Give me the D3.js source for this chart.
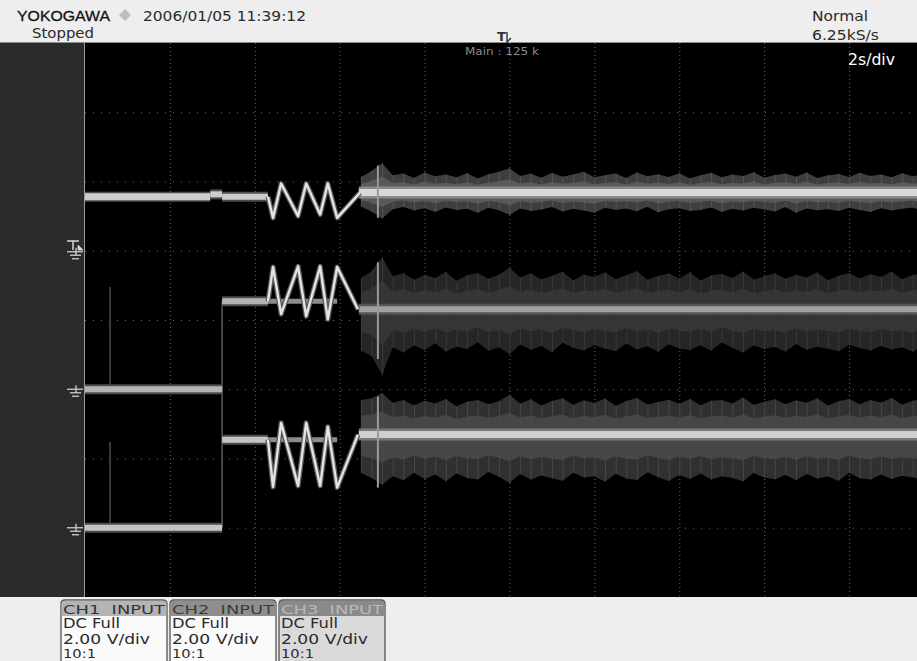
<!DOCTYPE html>
<html><head><meta charset="utf-8">
<script src="https://cdn.jsdelivr.net/npm/d3@7"></script>
<style>html,body{margin:0;padding:0;background:#eeeeee;} svg{display:block;}</style>
</head><body>
<svg id="c" width="917" height="661"></svg>
<script>
// ---------------- DATA ----------------
const timeDomain = [0, 20];            // s (2 s/div, 10 div)
const voltDomain = [-8, 8];            // V on screen (2 V/div, 8 div)
const gridTimes = [2, 4, 6, 8, 10, 12, 14, 16, 18];
const gridVolts = [-6, -4, -2, 0, 2, 4, 6];
const channelNames = ["CH1", "CH2", "CH3"];
const channelGround = [2, -2, -6];     // screen volts of each channel's ground marker
const channelCoupling = ["DC Full", "DC Full", "DC Full"];
const channelScale = ["2.00 V/div", "2.00 V/div", "2.00 V/div"];
const channelProbe = ["10:1", "10:1", "10:1"];

// flat levels before oscillation: [tStart, tEnd, volts]
const ch1Levels = [[0, 2.95, 1.56], [2.95, 3.23, 1.63], [3.23, 4.31, 1.56]];
const ch2Levels = [[0, 3.23, 0], [3.23, 4.31, 2.54]];
const ch3Levels = [[0, 3.23, 0], [3.23, 4.31, 2.54]];
// dim baseline continuing under the oscillation
const ch2Under = [[4.31, 5.94, 2.54]];
const ch3Under = [[4.31, 5.94, 2.54]];

// oscillation burst
const ch1OscT = [4.31, 4.43, 4.62, 5.02, 5.21, 5.54, 5.72, 5.94, 6.48];
const ch1OscV = [1.56, 0.95, 1.94, 1.00, 1.94, 1.05, 1.94, 0.95, 1.68];
const ch2OscT = [4.31, 4.43, 4.62, 5.02, 5.21, 5.54, 5.72, 5.94, 6.43];
const ch2OscV = [2.54, 3.53, 2.17, 3.55, 2.11, 3.55, 2.02, 3.53, 2.31];
const ch3OscT = [4.31, 4.43, 4.62, 5.02, 5.21, 5.54, 5.72, 5.94, 6.43];
const ch3OscV = [2.54, 1.18, 3.03, 1.21, 3.03, 1.21, 2.92, 1.16, 2.69];

// step edge at 3.23 s and glitch at 0.59 s : [t, vLow, vHigh]
const ch2Edge = [3.23, -1.45, 2.54];
const ch3Edge = [3.23, 0, 2.54];
const ch2Glitch = [0.59, 0, 2.95];
const ch3Glitch = [0.59, 0, 2.48];

// noisy steady state after 6.5 s
const noiseStart = 6.5, noiseStep = 0.25;
const channelCenter = [1.68, 2.31, 2.69];
const ch1NoiseUp = [0.45,0.62,0.85,0.50,0.55,0.42,0.58,0.47,0.52,0.44,0.56,0.41,0.53,0.60,0.70,0.48,0.55,0.43,0.57,0.46,0.52,0.60,0.44,0.50,0.55,0.42,0.58,0.47,0.53,0.45,0.56,0.41,0.50,0.57,0.44,0.52,0.48,0.59,0.43,0.51,0.55,0.46,0.58,0.42,0.50,0.54,0.45,0.57,0.48,0.52,0.44,0.56,0.47,0.53,0.50];
const ch1NoiseDn = [0.40,0.55,0.75,0.48,0.42,0.52,0.45,0.56,0.43,0.50,0.47,0.58,0.44,0.51,0.65,0.46,0.53,0.49,0.42,0.55,0.47,0.52,0.58,0.44,0.50,0.46,0.54,0.41,0.57,0.48,0.45,0.53,0.50,0.43,0.56,0.47,0.52,0.44,0.49,0.55,0.42,0.58,0.46,0.51,0.48,0.53,0.44,0.50,0.56,0.45,0.52,0.47,0.43,0.54,0.49];
const ch2NoiseUp = [0.90,1.10,1.50,0.95,1.05,0.85,1.00,0.90,1.08,0.82,0.98,1.05,0.88,1.00,1.20,0.92,1.04,0.86,0.97,1.08,0.84,1.00,0.93,1.06,0.87,0.99,1.10,0.85,0.96,1.03,0.89,1.07,0.83,0.98,1.02,0.90,1.09,0.86,0.95,1.04,0.88,1.00,0.92,1.06,0.84,0.97,1.05,0.89,1.01,0.94,1.08,0.87,0.99,1.03,0.95];
const ch2NoiseDn = [1.20,1.35,1.90,1.10,1.25,1.05,1.18,0.98,1.22,1.08,1.15,0.95,1.20,1.10,1.30,1.02,1.17,1.06,1.24,0.97,1.12,1.19,1.03,1.14,1.21,0.99,1.16,1.07,1.23,1.01,1.13,1.18,1.04,1.20,0.96,1.11,1.25,1.05,1.15,1.09,1.22,1.00,1.17,1.08,1.14,1.21,1.03,1.12,1.19,1.06,1.16,1.10,1.23,1.02,1.15];
const ch3NoiseUp = [1.00,1.05,1.20,0.92,1.00,0.85,0.98,0.90,1.03,0.82,0.95,1.00,0.88,0.96,1.15,0.90,1.02,0.84,0.97,1.05,0.86,0.99,0.91,1.04,0.83,0.97,1.06,0.87,0.94,1.01,0.89,1.03,0.85,0.98,1.00,0.90,1.07,0.86,0.95,1.02,0.88,0.99,0.92,1.05,0.84,0.96,1.03,0.88,1.00,0.93,1.06,0.86,0.98,1.02,0.94];
const ch3NoiseDn = [1.10,1.25,1.45,1.20,1.32,1.10,1.28,1.15,1.35,1.12,1.25,1.30,1.08,1.22,1.40,1.14,1.30,1.18,1.26,1.33,1.10,1.24,1.20,1.36,1.13,1.27,1.31,1.09,1.23,1.34,1.16,1.28,1.12,1.30,1.20,1.25,1.35,1.11,1.24,1.29,1.17,1.32,1.14,1.27,1.21,1.33,1.10,1.26,1.30,1.15,1.28,1.19,1.24,1.31,1.20];
// bright spike at 6.9 s : [vLow, vHigh] per channel
const spikeTime = 6.9;
const spikeRange = [[0.95, 2.46], [0.87, 3.67], [1.16, 3.79]];

// ---------------- DRAW ----------------
const svg = d3.select("#c");
const x = d3.scaleLinear().domain(timeDomain).range([85, 934]);
const y = d3.scaleLinear().domain(voltDomain).range([597, 43]);
const yc = (ch, v) => y(channelGround[ch] + v);

svg.append("rect").attr("x",0).attr("y",0).attr("width",917).attr("height",661).attr("fill","#eeeeee");
svg.append("rect").attr("x",0).attr("y",42).attr("width",85).attr("height",555).attr("fill","#2b2b2b");
svg.append("rect").attr("x",85).attr("y",42).attr("width",832).attr("height",555).attr("fill","#000");
svg.append("line").attr("x1",0).attr("x2",917).attr("y1",42.5).attr("y2",42.5).attr("stroke","#8a8a8a");
svg.append("line").attr("x1",84.5).attr("x2",84.5).attr("y1",43).attr("y2",597).attr("stroke","#9a9a9a");

svg.append("defs").append("clipPath").attr("id","pc").append("rect")
  .attr("x",85).attr("y",43).attr("width",832).attr("height",554);
const g = svg.append("g").attr("clip-path","url(#pc)");

// grid via axes
const gx = g.append("g").attr("transform","translate(0,43)")
  .call(d3.axisTop(x).tickValues(gridTimes).tickSize(-554).tickFormat(""));
gx.select(".domain").remove();
gx.selectAll("line").attr("stroke","#6a6a6a").attr("stroke-dasharray","1,3");
const gy = g.append("g").attr("transform","translate(85,0)")
  .call(d3.axisLeft(y).tickValues(gridVolts).tickSize(-850).tickFormat(""));
gy.select(".domain").remove();
gy.selectAll("line").attr("stroke","#6a6a6a").attr("stroke-dasharray","1,7");

// noise
const noiseUp = [ch1NoiseUp, ch2NoiseUp, ch3NoiseUp];
const noiseDn = [ch1NoiseDn, ch2NoiseDn, ch3NoiseDn];
const areaFill = ["#3e3e3e", "#262626", "#303030"];
const innerFill = ["#5e5e5e", "#383838", "#4a4a4a"];
const hairCol = ["#5a5a5a", "#3e3e3e", "#4c4c4c"];
const bandCol = ["#d9d9d9", "#a0a0a0", "#cfcfcf"];
const bandGlow = ["#8a8a8a", "#555555", "#7a7a7a"];
const bandW = [7, 6, 7];
for (let ch = 0; ch < 3; ch++) {
  const c = channelCenter[ch];
  const pts = noiseUp[ch].map((u, i) => ({t: noiseStart + i * noiseStep, up: u, dn: noiseDn[ch][i]}));
  g.append("path").datum(pts)
    .attr("d", d3.area().x(d => x(d.t)).y0(d => yc(ch, c - d.dn)).y1(d => yc(ch, c + d.up)))
    .attr("fill", areaFill[ch]);
  g.append("g").selectAll("line").data(pts).join("line")
    .attr("x1", d => x(d.t) + 0.5).attr("x2", d => x(d.t) + 0.5)
    .attr("y1", d => yc(ch, c - d.dn)).attr("y2", d => yc(ch, c + d.up))
    .attr("stroke", hairCol[ch]).attr("stroke-width", 0.8);
  g.append("path").datum(pts)
    .attr("d", d3.area().x(d => x(d.t)).y0(d => yc(ch, c - d.dn * 0.55)).y1(d => yc(ch, c + d.up * 0.55)))
    .attr("fill", innerFill[ch]).attr("opacity", 0.85);
  const band = [{t: noiseStart - 0.05}, {t: timeDomain[1]}];
  const ln = d3.line().x(d => x(d.t)).y(() => yc(ch, c));
  g.append("path").datum(band).attr("d", ln).attr("stroke", bandGlow[ch]).attr("stroke-width", bandW[ch] + 5).attr("fill","none");
  g.append("path").datum(band).attr("d", ln).attr("stroke", bandCol[ch]).attr("stroke-width", bandW[ch]).attr("fill","none");
  // spike
  g.append("line").attr("x1", x(spikeTime)).attr("x2", x(spikeTime))
    .attr("y1", yc(ch, spikeRange[ch][0])).attr("y2", yc(ch, spikeRange[ch][1]))
    .attr("stroke", "#9a9a9a").attr("stroke-width", 2);
}

// edges and glitches
[[1, ch2Edge, "#555555"], [2, ch3Edge, "#555555"], [1, ch2Glitch, "#484848"], [2, ch3Glitch, "#484848"]].forEach(([ch, e, col]) => {
  g.append("line").attr("x1", x(e[0])).attr("x2", x(e[0]))
    .attr("y1", yc(ch, e[1])).attr("y2", yc(ch, e[2]))
    .attr("stroke", col).attr("stroke-width", 1.6);
});

// flat levels
const levels = [ch1Levels, ch2Levels, ch3Levels];
const levelCol = ["#cdcdcd", "#b4b4b4", "#c4c4c4"];
levels.forEach((lv, ch) => {
  lv.forEach(s => {
    g.append("line").attr("x1", x(s[0])).attr("x2", x(s[1])).attr("y1", yc(ch, s[2])).attr("y2", yc(ch, s[2]))
      .attr("stroke", "#4d4d4d").attr("stroke-width", 10);
    g.append("line").attr("x1", x(s[0])).attr("x2", x(s[1])).attr("y1", yc(ch, s[2])).attr("y2", yc(ch, s[2]))
      .attr("stroke", levelCol[ch]).attr("stroke-width", ch === 0 && s[0] === 0 ? 7 : 6);
  });
});
[[1, ch2Under], [2, ch3Under]].forEach(([ch, lv]) => lv.forEach(s => {
  g.append("line").attr("x1", x(s[0])).attr("x2", x(s[1])).attr("y1", yc(ch, s[2])).attr("y2", yc(ch, s[2]))
    .attr("stroke", "#8c8c8c").attr("stroke-width", 5);
}));

// oscillation
const oscT = [ch1OscT, ch2OscT, ch3OscT], oscV = [ch1OscV, ch2OscV, ch3OscV];
for (let ch = 0; ch < 3; ch++) {
  const pts = oscT[ch].map((t, i) => [t, oscV[ch][i]]);
  const ln = d3.line().x(d => x(d[0])).y(d => yc(ch, d[1]));
  g.append("path").datum(pts).attr("d", ln).attr("fill","none").attr("stroke","#5a5a5a").attr("stroke-width",5).attr("stroke-linejoin","round");
  g.append("path").datum(pts).attr("d", ln).attr("fill","none").attr("stroke","#e4e4e4").attr("stroke-width",2.4).attr("stroke-linejoin","round");
}

// ground markers
function ground(gyPos) {
  const m = svg.append("g").attr("stroke","#cfcfcf").attr("stroke-width",1.3);
  m.append("line").attr("x1",67).attr("x2",83).attr("y1",gyPos).attr("y2",gyPos);
  m.append("line").attr("x1",70).attr("x2",81).attr("y1",gyPos+3.5).attr("y2",gyPos+3.5);
  m.append("line").attr("x1",72).attr("x2",79).attr("y1",gyPos+7).attr("y2",gyPos+7);
  m.append("line").attr("x1",76).attr("x2",76).attr("y1",gyPos-4).attr("y2",gyPos+3.5);
}
ground(yc(0, 0) + 1);
ground(yc(1, 0));
ground(yc(2, 0));
// trigger mark on CH1
const tm = svg.append("g").attr("stroke","#d8d8d8").attr("stroke-width",1.5).attr("fill","none");
tm.append("line").attr("x1",67).attr("x2",79).attr("y1",241).attr("y2",241);
tm.append("line").attr("x1",73).attr("x2",73).attr("y1",241).attr("y2",250);
tm.append("path").attr("d","M78,245 L78,250 L83,250 Z").attr("fill","#d8d8d8").attr("stroke-width",0.8);

// header text
const font = "'DejaVu Sans', Verdana, sans-serif";
function txt(s, xx, yy, size, col, len, weight, anchor) {
  const t = svg.append("text").attr("x", xx).attr("y", yy).text(s)
    .attr("font-family", font).attr("font-size", size).attr("fill", col);
  if (len) t.attr("textLength", len).attr("lengthAdjust", "spacingAndGlyphs");
  if (weight) t.attr("font-weight", weight);
  if (anchor) t.attr("text-anchor", anchor);
  return t;
}
txt("YOKOGAWA", 17, 21, 15, "#111111", 93, null).attr("font-family","'Liberation Sans', Arial, sans-serif").attr("stroke","#111").attr("stroke-width",0.3);
svg.append("path").attr("d","M125,9 L131,15 L125,21 L119,15 Z").attr("fill","#bdbdbd");
txt("2006/01/05 11:39:12", 143, 21, 14, "#2a2a2a", 163);
txt("Stopped", 32, 38, 14, "#2a2a2a", 62);
txt("Normal", 812, 21, 14, "#2a2a2a", 56);
txt("6.25kS/s", 812, 40, 14, "#2a2a2a", 67);
// T marker in header
txt("T", 497, 41, 13, "#333", null, "bold");
svg.append("path").attr("d","M507,32 L507,42 L511,38").attr("stroke","#333").attr("stroke-width",1.4).attr("fill","none");
txt("Main : 125 k", 465, 55, 10, "#8a8a8a", 74);
txt("2s/div", 848, 65, 15, "#ffffff", 47);

// channel boxes
const boxX = [61, 170, 279];
const hdrFill = ["#b4b4b4", "#8e8e8e", "#8a8a8a"];
const hdrText = ["#333333", "#3c3c3c", "#b9b9b9"];
const bodyFill = ["#fafafa", "#fafafa", "#dadada"];
channelNames.forEach((nm, i) => {
  const bx = boxX[i];
  svg.append("path").attr("d", `M${bx},672 L${bx},604 Q${bx},600 ${bx+4},600 L${bx+102},600 Q${bx+106},600 ${bx+106},604 L${bx+106},672 Z`)
    .attr("fill", bodyFill[i]).attr("stroke", "#555").attr("stroke-width", 1.3);
  svg.append("path").attr("d", `M${bx+0.7},616 L${bx+0.7},604 Q${bx+0.7},600.7 ${bx+4},600.7 L${bx+102},600.7 Q${bx+105.3},600.7 ${bx+105.3},604 L${bx+105.3},616 Z`)
    .attr("fill", hdrFill[i]);
  txt(nm + "  INPUT", bx + 2, 613.5, 13, hdrText[i], 102).style("white-space","pre");
  txt(channelCoupling[i], bx + 2, 628, 13.5, "#2a2a2a", 57);
  txt(channelScale[i], bx + 2, 643.5, 13.5, "#2a2a2a", 87);
  txt(channelProbe[i], bx + 2, 658, 13, "#2a2a2a", 33);
});
</script></body></html>
